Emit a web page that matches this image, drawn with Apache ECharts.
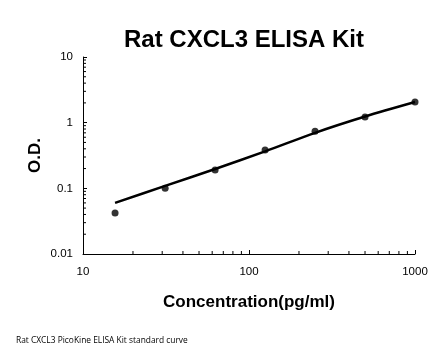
<!DOCTYPE html>
<html><head><meta charset="utf-8">
<script src="https://cdn.jsdelivr.net/npm/echarts@6/dist/echarts.min.js"></script>
<style>html,body{margin:0;padding:0;background:#fff}#c{width:446px;height:356px}</style>
</head><body><div id="c"></div>
<script>
const concentrations = [15.6, 31.25, 62.5, 125, 250, 500, 1000];
const odValues = [0.042, 0.100, 0.19, 0.384, 0.74, 1.22, 2.07];
const curveX = [15.6, 31.25, 62.5, 125, 250, 500, 1000];
const curveY = [0.060, 0.109, 0.197, 0.365, 0.70, 1.24, 2.06];
const xMinorTicks = [20,30,40,50,60,70,80,90,200,300,400,500,600,700,800,900];
const yMinorTicks = [0.02,0.03,0.04,0.05,0.06,0.07,0.08,0.09,0.2,0.3,0.4,0.5,0.6,0.7,0.8,0.9,2,3,4,5,6,7,8,9];

const chart = echarts.init(document.getElementById('c'), null, {renderer:'canvas'});
const font = 'Liberation Sans, Arial, sans-serif';
chart.setOption({
  animation:false,
  title:{text:'Rat CXCL3 ELISA Kit', left:119, top:23,
    textStyle:{fontFamily:font, fontWeight:'bold', fontSize:24, color:'#000'}},
  grid:{left:83, right:31, top:57, bottom:102},
  xAxis:{type:'log', logBase:10, min:10, max:1000,
    name:'Concentration(pg/ml)', nameLocation:'middle', nameGap:40, nameMoveOverlap:false,
    nameTextStyle:{fontFamily:font, fontWeight:'bold', fontSize:17, color:'#000'},
    axisLine:{lineStyle:{color:'#000', width:1}},
    axisTick:{inside:true, length:4, lineStyle:{color:'#000'}},
    axisLabel:{fontFamily:font, fontSize:11.5, color:'#000', margin:12,
      formatter:v=>String(Math.round(v))},
    splitLine:{show:false}},
  yAxis:{type:'log', logBase:10, min:0.01, max:10,
    name:'O.D.', nameLocation:'middle', nameGap:39, nameRotate:90, nameMoveOverlap:false,
    nameTextStyle:{fontFamily:font, fontWeight:'bold', fontSize:17, color:'#000'},
    axisLine:{show:true, lineStyle:{color:'#000', width:1}},
    axisTick:{show:true, inside:true, length:4, lineStyle:{color:'#000'}},
    axisLabel:{fontFamily:font, fontSize:11.5, color:'#000', margin:10},
    splitLine:{show:false}},
  series:[
    {type:'custom', silent:true, clip:false, data:xMinorTicks.map(v=>[v]),
      renderItem:(p,api)=>{const pt=api.coord([api.value(0),0.01]);
        return {type:'line', shape:{x1:pt[0],y1:pt[1],x2:pt[0],y2:pt[1]-3}, style:{stroke:'#000', lineWidth:1}};}},
    {type:'custom', silent:true, clip:false, data:yMinorTicks.map(v=>[10,v]),
      encode:{x:0,y:1},
      renderItem:(p,api)=>{const pt=api.coord([10,api.value(1)]);
        return {type:'line', shape:{x1:pt[0],y1:pt[1],x2:pt[0]+3,y2:pt[1]}, style:{stroke:'#000', lineWidth:1}};}},
    {type:'line', data:curveX.map((x,i)=>[x,curveY[i]]), smooth:0.3, showSymbol:false,
      lineStyle:{color:'#000', width:2.5}},
    {type:'scatter', data:concentrations.map((x,i)=>[x,odValues[i]]), symbol:'circle', symbolSize:7,
      itemStyle:{color:'#000'}}
  ],
  graphic:[{type:'text', left:16, top:337, style:{text:'Rat CXCL3 PicoKine ELISA Kit standard curve',
    font:'8.4px "Open Sans", sans-serif', fill:'#000'}}]
});
</script></body></html>
